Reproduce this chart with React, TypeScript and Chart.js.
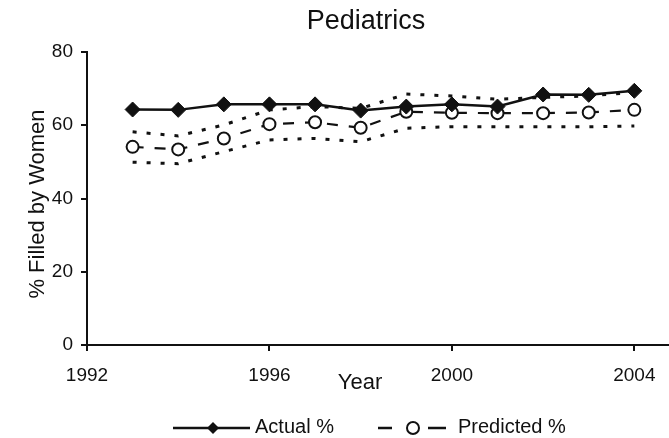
import React, { useEffect, useRef } from 'react';
import { Chart, registerables } from 'chart.js';

Chart.register(...registerables);

const years = [1993, 1994, 1995, 1996, 1997, 1998, 1999, 2000, 2001, 2002, 2003, 2004];
const actualPct = [64.3, 64.2, 65.7, 65.7, 65.7, 64.0, 65.1, 65.7, 65.1, 68.4, 68.3, 69.4];
const predictedPct = [54.1, 53.4, 56.4, 60.3, 60.8, 59.3, 63.7, 63.4, 63.3, 63.3, 63.5, 64.2];
const upperBound = [58.2, 57.1, 60.1, 64.2, 65.1, 64.6, 68.5, 68.0, 67.1, 67.6, 68.0, 69.0];
const lowerBound = [49.9, 49.5, 52.8, 56.0, 56.4, 55.5, 59.2, 59.6, 59.6, 59.6, 59.6, 59.8];
const xTickYears = [1992, 1996, 2000, 2004];
const yTickValues = [0, 20, 40, 60, 80];

const titleText = 'Pediatrics';
const xTitle = 'Year';
const yTitle = '% Filled by Women';
const legendActual = 'Actual %';
const legendPredicted = 'Predicted %';

const FONT = '"Liberation Sans", Arial, sans-serif';
const INK = '#111';

const pts = (vals: number[]) => years.map((x, i) => ({ x, y: vals[i] }));

const decorPlugin = {
  id: 'decor',
  afterDraw(chart: any) {
    const ctx = chart.ctx as CanvasRenderingContext2D;
    ctx.save();
    ctx.fillStyle = INK;
    ctx.strokeStyle = INK;
    // main title
    ctx.font = `27px ${FONT}`;
    ctx.textAlign = 'center';
    ctx.textBaseline = 'alphabetic';
    ctx.fillText(titleText, 366, 29);
    // x title
    ctx.font = `22px ${FONT}`;
    ctx.fillText(xTitle, 360, 389);
    // y title
    ctx.save();
    ctx.translate(44, 204);
    ctx.rotate(-Math.PI / 2);
    ctx.font = `22px ${FONT}`;
    ctx.textAlign = 'center';
    ctx.fillText(yTitle, 0, 0);
    ctx.restore();

    // legend
    const ly = 428;
    ctx.lineWidth = 2.5;
    ctx.setLineDash([]);
    ctx.beginPath();
    ctx.moveTo(173, ly);
    ctx.lineTo(250, ly);
    ctx.stroke();
    ctx.beginPath();
    const d = 6;
    ctx.moveTo(213, ly - d);
    ctx.lineTo(213 + d, ly);
    ctx.lineTo(213, ly + d);
    ctx.lineTo(213 - d, ly);
    ctx.closePath();
    ctx.fill();
    ctx.font = `20px ${FONT}`;
    ctx.textAlign = 'left';
    ctx.fillText(legendActual, 255, 433);

    ctx.lineWidth = 2.5;
    ctx.beginPath();
    ctx.moveTo(378, ly);
    ctx.lineTo(392, ly);
    ctx.moveTo(428, ly);
    ctx.lineTo(446, ly);
    ctx.stroke();
    ctx.beginPath();
    ctx.arc(413, ly, 6, 0, Math.PI * 2);
    ctx.fillStyle = '#fff';
    ctx.fill();
    ctx.lineWidth = 2;
    ctx.stroke();
    ctx.fillStyle = INK;
    ctx.fillText(legendPredicted, 458, 433);
    ctx.restore();
  },
};

export default function App() {
  const ref = useRef<HTMLCanvasElement | null>(null);
  useEffect(() => {
    if (!ref.current) return;
    Chart.defaults.font.family = FONT;
    const chart = new Chart(ref.current, {
      type: 'line',
      data: {
        datasets: [
          {
            label: legendActual,
            data: pts(actualPct),
            borderColor: INK,
            borderWidth: 2.5,
            pointStyle: 'rectRot',
            pointRadius: 7.5,
            pointBackgroundColor: INK,
            pointBorderColor: INK,
            pointBorderWidth: 1,
          },
          {
            label: legendPredicted,
            data: pts(predictedPct),
            borderColor: INK,
            borderWidth: 2.2,
            borderDash: [11, 11],
            pointStyle: 'circle',
            pointRadius: 6,
            pointBackgroundColor: '#fff',
            pointBorderColor: INK,
            pointBorderWidth: 2,
          },
          {
            label: 'Upper',
            data: pts(upperBound),
            borderColor: INK,
            borderWidth: 3,
            borderDash: [4, 10],
            pointRadius: 0,
          },
          {
            label: 'Lower',
            data: pts(lowerBound),
            borderColor: INK,
            borderWidth: 3,
            borderDash: [4, 10],
            pointRadius: 0,
          },
        ],
      },
      options: {
        responsive: false,
        animation: false,
        events: [],
        layout: { autoPadding: false, padding: { top: 52, left: 0, right: 0, bottom: 0 } },
        elements: { line: { tension: 0 } },
        plugins: {
          legend: { display: false },
          title: { display: false },
          tooltip: { enabled: false },
        },
        scales: {
          x: {
            type: 'linear',
            min: 1992,
            max: 2004.76,
            afterBuildTicks: (s: any) => {
              s.ticks = xTickYears.map((v) => ({ value: v }));
            },
            afterFit: (s: any) => {
              s.height = 93;
              s.paddingLeft = 0;
              s.paddingRight = 0;
            },
            ticks: {
              callback: (v: any) => String(v),
              font: { size: 19 },
              color: INK,
              padding: 13,
              maxRotation: 0,
              autoSkip: false,
            },
            grid: { drawOnChartArea: false, drawTicks: true, tickLength: 6, color: INK, lineWidth: 2 },
            border: { color: INK, width: 2 },
          },
          y: {
            type: 'linear',
            min: 0,
            max: 80,
            afterBuildTicks: (s: any) => {
              s.ticks = yTickValues.map((v) => ({ value: v }));
            },
            afterFit: (s: any) => {
              s.width = 87;
              s.paddingTop = 0;
              s.paddingBottom = 0;
            },
            ticks: {
              callback: (v: any) => String(v),
              font: { size: 19 },
              color: INK,
              padding: 8,
            },
            grid: { drawOnChartArea: false, drawTicks: true, tickLength: 6, color: INK, lineWidth: 2 },
            border: { color: INK, width: 2 },
          },
        },
      },
      plugins: [decorPlugin],
    });
    return () => chart.destroy();
  }, []);
  return (
    <div style={{ position: 'fixed', left: 0, top: 0, width: 669, height: 438, background: '#fff' }}>
      <canvas ref={ref} width={669} height={438} />
    </div>
  );
}
